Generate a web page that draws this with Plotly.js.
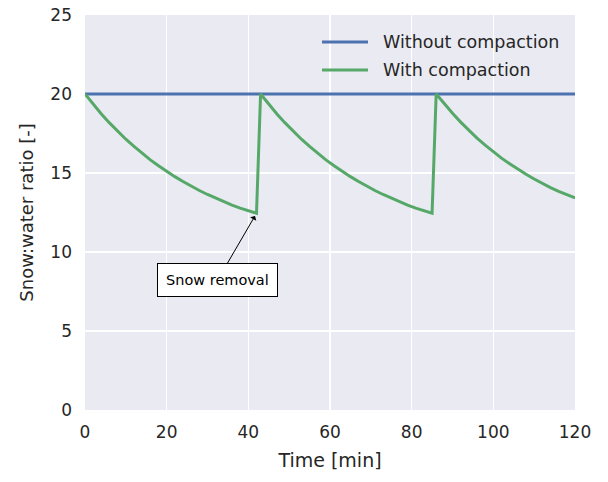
<!DOCTYPE html>
<html>
<head>
<meta charset="utf-8">
<script src="https://cdn.plot.ly/plotly-3.0.1.min.js"></script>
<style>html,body{margin:0;padding:0;background:#fff;}#chart{width:608px;height:482px;}</style>
</head>
<body>
<div id="chart"></div>
<script>
// Without compaction (constant)
var timeNo = [0, 120];
var ratioNo = [20, 20];

// With compaction: three decay segments separated by snow removal
var timeWith = [
  0, 2, 4, 6, 8, 10, 12, 14, 16, 18, 20, 22, 24, 26, 28, 30, 32, 34, 36, 38, 40, 42,
  43, 45, 47, 49, 51, 53, 55, 57, 59, 61, 63, 65, 67, 69, 71, 73, 75, 77, 79, 81, 83, 85,
  86, 88, 90, 92, 94, 96, 98, 100, 102, 104, 106, 108, 110, 112, 114, 116, 118, 120
];
var ratioWith = [
  20.0, 19.35, 18.74, 18.17, 17.64, 17.14, 16.68, 16.24, 15.83, 15.46, 15.10, 14.77, 14.46, 14.16, 13.89, 13.64, 13.40, 13.18, 12.97, 12.78, 12.60, 12.45,
  20.0, 19.35, 18.74, 18.17, 17.64, 17.14, 16.68, 16.24, 15.83, 15.46, 15.10, 14.77, 14.46, 14.16, 13.89, 13.64, 13.40, 13.18, 12.97, 12.78, 12.60, 12.45,
  20.0, 19.37, 18.78, 18.22, 17.70, 17.21, 16.76, 16.34, 15.94, 15.58, 15.24, 14.92, 14.62, 14.34, 14.08, 13.84, 13.62, 13.42
];

var seriesNames = ["Without compaction", "With compaction"];
var seriesColors = ["#4C72B0", "#55A868"];
var xTicks = [0, 20, 40, 60, 80, 100, 120];
var yTicks = [0, 5, 10, 15, 20, 25];
var annotationText = "Snow removal";
var annotationX = 42;
var annotationY = 12.45;

var font = "DejaVu Sans, sans-serif";
var textColor = "#262626";

var traces = [
  {x: timeNo, y: ratioNo, mode: "lines", name: seriesNames[0],
   line: {color: seriesColors[0], width: 3}},
  {x: timeWith, y: ratioWith, mode: "lines", name: seriesNames[1],
   line: {color: seriesColors[1], width: 3}}
];

// manual legend (paper coordinates of plot area)
var legendRowsY = [0.9316, 0.8608];
var shapes = [];
var annotations = [];
for (var i = 0; i < seriesNames.length; i++) {
  shapes.push({type: "line", xref: "paper", yref: "paper",
    x0: 0.4837, x1: 0.5776, y0: legendRowsY[i], y1: legendRowsY[i],
    line: {color: seriesColors[i], width: 3}});
  annotations.push({xref: "paper", yref: "paper", x: 0.6041, y: legendRowsY[i],
    xanchor: "left", yanchor: "middle", showarrow: false, text: seriesNames[i],
    font: {size: 17.5, color: textColor, family: font}});
}
annotations.push({
  x: annotationX, y: annotationY, xref: "x", yref: "y",
  text: annotationText, showarrow: true,
  ax: -39, ay: 67, axref: "pixel", ayref: "pixel",
  arrowhead: 1, arrowsize: 1.2, arrowwidth: 1, arrowcolor: "#000000",
  standoff: 3,
  bgcolor: "#ffffff", bordercolor: "#000000", borderwidth: 1, borderpad: 8,
  font: {size: 14.5, color: "#000000", family: font}
});

var layout = {
  width: 608, height: 482,
  margin: {l: 85, r: 33, t: 15, b: 72},
  paper_bgcolor: "#ffffff",
  plot_bgcolor: "#EAEAF2",
  font: {family: font, color: textColor, size: 17},
  showlegend: false,
  xaxis: {range: [0, 120], tickvals: xTicks, ticktext: xTicks.map(String),
          showgrid: true, gridcolor: "#ffffff", gridwidth: 1.5, zeroline: false,
          showline: false, ticks: "", tickfont: {size: 17}, ticklabelstandoff: 10,
          title: {text: "Time [min]", font: {size: 19}, standoff: 12}},
  yaxis: {range: [0, 25], tickvals: yTicks, ticktext: yTicks.map(String),
          showgrid: true, gridcolor: "#ffffff", gridwidth: 1.5, zeroline: false,
          showline: false, ticks: "", tickfont: {size: 17}, ticklabelstandoff: 12,
          title: {text: "Snow:water ratio [-]", font: {size: 18}, standoff: 12}},
  shapes: shapes,
  annotations: annotations
};

Plotly.newPlot("chart", traces, layout, {displayModeBar: false, staticPlot: true});
</script>
</body>
</html>
